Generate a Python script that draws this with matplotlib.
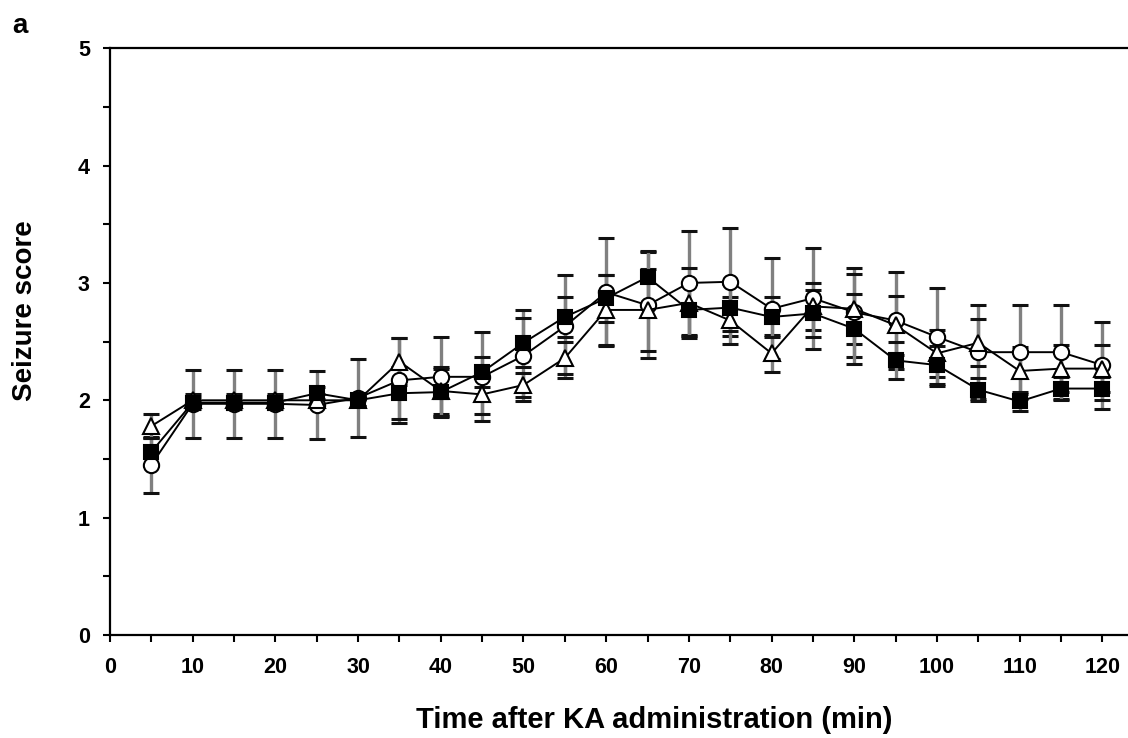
import numpy as np
import matplotlib
matplotlib.use("Agg")
import matplotlib.pyplot as plt
from matplotlib.ticker import MultipleLocator

# time points (min after KA)
time_min = [5, 10, 15, 20, 25, 30, 35, 40, 45, 50, 55, 60,
            65, 70, 75, 80, 85, 90, 95, 100, 105, 110, 115, 120]

# open circles
circle_mean = [1.45, 1.97, 1.97, 1.97, 1.96, 2.02, 2.17, 2.2, 2.2, 2.38, 2.63, 2.92,
               2.81, 3.0, 3.01, 2.78, 2.87, 2.75, 2.68, 2.54, 2.41, 2.41, 2.41, 2.3]
circle_err = [0.24, 0.29, 0.29, 0.29, 0.29, 0.33, 0.36, 0.34, 0.38, 0.39, 0.44, 0.46,
              0.45, 0.44, 0.46, 0.43, 0.43, 0.38, 0.41, 0.42, 0.40, 0.40, 0.40, 0.37]

# open triangles
triangle_mean = [1.78, 2.0, 2.0, 2.0, 2.0, 2.0, 2.33, 2.08, 2.05, 2.13, 2.36, 2.77,
                 2.77, 2.83, 2.68, 2.4, 2.8, 2.78, 2.64, 2.4, 2.49, 2.25, 2.27, 2.27]
triangle_err = [0.1, 0.05, 0.05, 0.05, 0.05, 0.05, 0.2, 0.2, 0.17, 0.1, 0.14, 0.3,
                0.35, 0.3, 0.2, 0.16, 0.2, 0.3, 0.25, 0.2, 0.2, 0.2, 0.2, 0.2]

# filled squares
square_mean = [1.56, 1.98, 1.98, 1.98, 2.06, 2.0, 2.06, 2.07, 2.24, 2.49, 2.71, 2.87,
               3.05, 2.77, 2.79, 2.71, 2.74, 2.61, 2.34, 2.3, 2.09, 1.99, 2.1, 2.1]
square_err = [0.12, 0.05, 0.05, 0.05, 0.05, 0.05, 0.22, 0.2, 0.13, 0.21, 0.17, 0.2,
              0.22, 0.22, 0.2, 0.17, 0.2, 0.3, 0.16, 0.16, 0.1, 0.08, 0.1, 0.1]

plt.rcParams['font.family'] = ['Liberation Sans', 'DejaVu Sans']
plt.rcParams['font.weight'] = 'bold'

fig = plt.figure(figsize=(11.28, 7.38), dpi=100)
ax = fig.add_axes([0.0975, 0.1396, 0.9025, 0.795])

series = [
    (circle_mean, circle_err, 'o', 'white', 11),
    (triangle_mean, triangle_err, '^', 'white', 11),
    (square_mean, square_err, 's', 'black', 10),
]
for k, (mean, err, mk, face, ms) in enumerate(series):
    _, caps, bars = ax.errorbar(time_min, mean, yerr=err, fmt='none', ecolor='#808080',
                                elinewidth=2.4, capsize=6, capthick=2.2, zorder=1)
    for c in caps:
        c.set_markeredgecolor('#111111')
    ax.plot(time_min, mean, color='black', lw=1.4, marker=mk, ms=ms,
            mfc=face, mec='black', mew=1.5, zorder=3 + k)

ax.set_xlim(0, 123.1)
ax.set_ylim(0, 5)
ax.xaxis.set_major_locator(MultipleLocator(10))
ax.xaxis.set_minor_locator(MultipleLocator(5))
ax.yaxis.set_major_locator(MultipleLocator(1))
ax.yaxis.set_minor_locator(MultipleLocator(0.5))
ax.spines['right'].set_visible(False)
for s in ['left', 'bottom', 'top']:
    ax.spines[s].set_linewidth(1.6)
ax.tick_params(which='both', direction='out', width=1.5, length=5,
               labelsize=15.5, colors='black')
ax.tick_params(axis='x', which='major', pad=11)
ax.tick_params(axis='y', which='major', pad=9.5)
for lab in ax.get_xticklabels() + ax.get_yticklabels():
    lab.set_fontweight('bold')

ax.set_xlabel('Time after KA administration (min)', fontsize=21, fontweight='bold')
ax.xaxis.label.set_verticalalignment('center')
ax.xaxis.set_label_coords(0.535, -0.145)
ax.set_ylabel('Seizure score', fontsize=20, fontweight='bold')
ax.yaxis.label.set_verticalalignment('center')
ax.yaxis.set_label_coords(-0.0835, 0.552)
fig.text(0.011, 0.955, 'a', fontsize=20, fontweight='bold')

fig.savefig('out.png', dpi=100)
